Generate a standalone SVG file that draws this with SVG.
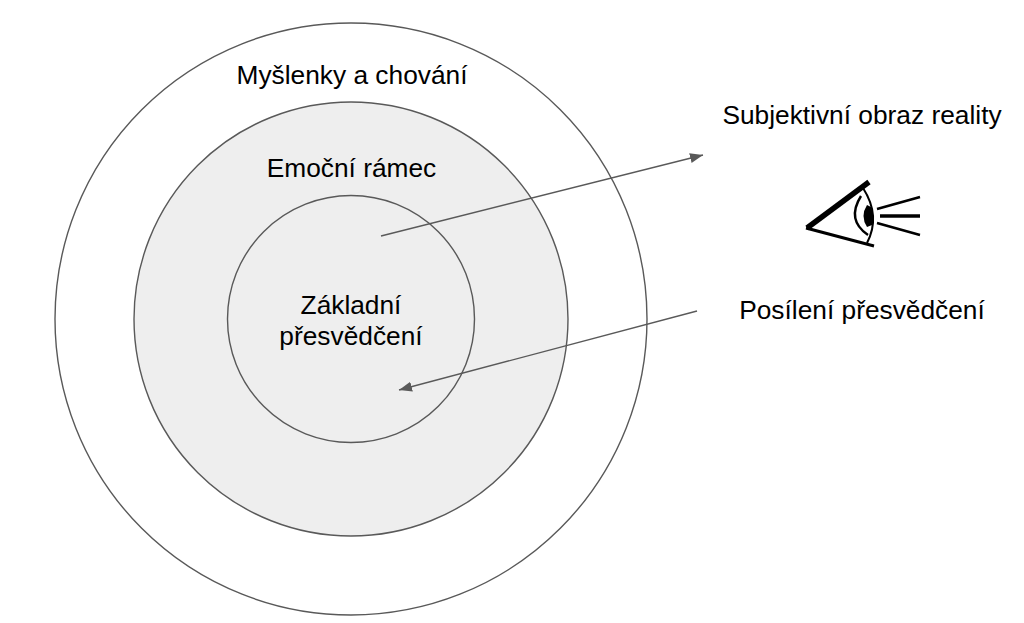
<svg xmlns="http://www.w3.org/2000/svg" width="1024" height="623" viewBox="0 0 1024 623">
<style>
.c{stroke:#595959;stroke-width:1.4}
.t{font-family:"Liberation Sans",Arial,sans-serif;font-size:26.300px;fill:#000;text-anchor:middle}
.a{stroke:#595959;stroke-width:1.4;fill:none;marker-end:url(#ah)}
.e{stroke:#000;fill:none}
</style>
<defs><marker id="ah" markerUnits="userSpaceOnUse" markerWidth="14" markerHeight="12" refX="13" refY="5" orient="auto"><path d="M0 0L13 5L0 10z" fill="#595959"/></marker></defs>
<rect width="1024" height="623" fill="#fff"/>
<g id="outer"><circle cx="351" cy="319" r="296" fill="#fff" class="c"/><text class="t" x="352" y="84">Myšlenky a chování</text></g>
<g id="middle"><circle cx="351" cy="319" r="217" fill="#eeeeee" class="c"/><text class="t" x="351.500" y="177">Emoční rámec</text></g>
<g id="inner"><circle cx="351" cy="319" r="123.500" fill="#eeeeee" class="c"/><text class="t" x="351" y="314">Základní</text><text class="t" x="351" y="345">přesvědčení</text></g>
<g id="label-reality"><text class="t" x="862" y="124">Subjektivní obraz reality</text></g>
<g id="label-reinforce"><text class="t" x="862" y="319">Posílení přesvědčení</text></g>
<g id="eye">
<path class="e" stroke-width="5.500" d="M807 228L869 182"/>
<path class="e" stroke-width="3" d="M806 228L874 246"/>
<path class="e" stroke-width="2" d="M863 188Q881 216 867 243"/>
<path class="e" stroke-width="2.400" d="M861 196Q846 220 868 235"/>
<path d="M867 205Q860 216 867 227L872 225Q875 216 871 207z" fill="#000"/>
<path class="e" stroke-width="2.600" d="M877 209L920 197M877 223L920 235"/>
<path class="e" stroke-width="3.400" d="M880 216L920 216"/>
</g>
<g id="connectors">
<path class="a" d="M381 236L703 155"/>
<path class="a" d="M697 311L399 390"/>
</g>
</svg>
